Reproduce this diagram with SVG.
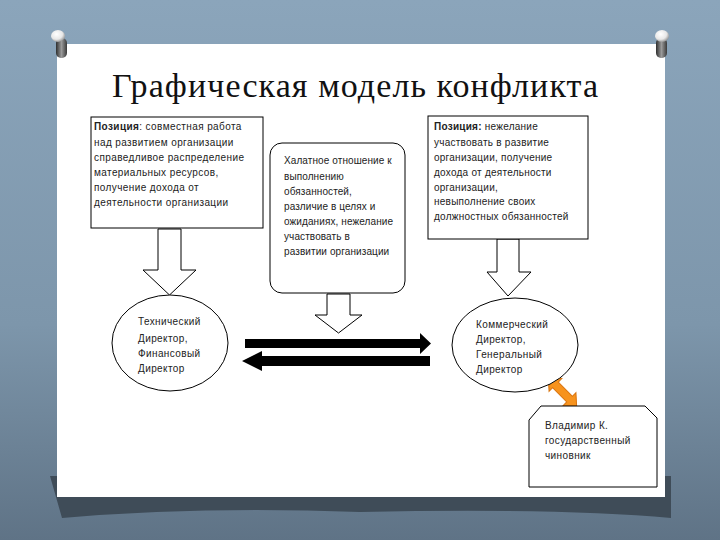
<svg xmlns="http://www.w3.org/2000/svg" width="720" height="540" viewBox="0 0 720 540">
<defs>
<linearGradient id="bg" x1="0" y1="0" x2="0" y2="1">
<stop offset="0" stop-color="#8ba5bb"/>
<stop offset="0.6" stop-color="#7d96ab"/>
<stop offset="1" stop-color="#5f7386"/>
</linearGradient>
<radialGradient id="cap" cx="0.4" cy="0.35" r="0.7">
<stop offset="0" stop-color="#ffffff"/>
<stop offset="0.6" stop-color="#e8e8e8"/>
<stop offset="1" stop-color="#8a8a8a"/>
</radialGradient>
<linearGradient id="body" x1="0" y1="0" x2="1" y2="0">
<stop offset="0" stop-color="#2e2e2e"/>
<stop offset="0.5" stop-color="#9a9a9a"/>
<stop offset="1" stop-color="#3a3a3a"/>
</linearGradient>
<style>
.t{font-family:"Liberation Sans","DejaVu Sans",sans-serif;font-size:10px;fill:#222;letter-spacing:0.4px}
.c{letter-spacing:0.1px}
.r{letter-spacing:0.25px}
.b{font-weight:bold}
.ln{fill:#fff;stroke:#000;stroke-width:1}
.blk{fill:#000}
</style>
</defs>
<rect x="0" y="0" width="720" height="540" fill="url(#bg)"/>
<path d="M50,476 L671,476 L671,518 Q560,508 360,512 Q200,506 62,518 Z" fill="#3f4c58"/>
<rect x="57" y="44" width="608" height="453" fill="#fff"/>
<g id="pins">
<rect x="56" y="38" width="11" height="20" rx="5" fill="url(#body)"/>
<ellipse cx="58" cy="36" rx="7" ry="6" fill="url(#cap)"/>
<rect x="656" y="38" width="11" height="20" rx="5" fill="url(#body)"/>
<ellipse cx="662" cy="36" rx="7" ry="6" fill="url(#cap)"/>
</g>
<text x="355" y="97" text-anchor="middle" font-family="Liberation Serif, serif" font-size="34" fill="#111" textLength="486">Графическая модель конфликта</text>
<g id="connectors">
<polygon class="ln" points="158,229 181,229 181,270 196,270 169.5,295 143,270 158,270"/>
<polygon class="ln" points="327,294 350,294 350,315 362,315 338.5,333 315,315 327,315"/>
<polygon class="ln" points="497,239 519,239 519,272 531,272 508,296 487,272 497,272"/>
<polygon class="blk" points="245,339 420,339 420,333 431,343.5 420,354 420,348 245,348"/>
<polygon class="blk" points="430,356 262,356 262,351 242,361 262,371 262,366 430,366"/>
<polygon points="-20,0 -10,-9 -10,-4 10,-4 10,-9 20,0 10,9 10,4 -10,4 -10,9" fill="#f7931e" stroke="#d9730d" stroke-width="1" transform="translate(562.5,392) rotate(45)"/>
</g>
<g id="box-left">
<rect class="ln" x="91" y="117" width="172" height="111"/>
<text class="t" x="94" y="130"><tspan class="b">Позиция</tspan>: совместная работа</text>
<text class="t" x="94" y="146">над развитием организации</text>
<text class="t" x="94" y="161">справедливое распределение</text>
<text class="t" x="94" y="176">материальных ресурсов,</text>
<text class="t" x="94" y="191">получение дохода от</text>
<text class="t" x="94" y="206">деятельности организации</text>
</g>
<g id="box-center">
<rect class="ln" x="270" y="143" width="135" height="150" rx="12"/>
<text class="t c" x="284" y="164">Халатное отношение к</text>
<text class="t c" x="284" y="180">выполнению</text>
<text class="t c" x="284" y="195">обязанностей,</text>
<text class="t c" x="284" y="210">различие в целях и</text>
<text class="t c" x="284" y="225">ожиданиях, нежелание</text>
<text class="t c" x="284" y="240">участвовать в</text>
<text class="t c" x="284" y="255">развитии организации</text>
</g>
<g id="box-right">
<rect class="ln" x="428" y="116" width="160" height="123"/>
<text class="t r" x="434" y="130"><tspan class="b">Позиция:</tspan> нежелание</text>
<text class="t r" x="434" y="146">участвовать в развитие</text>
<text class="t r" x="434" y="161">организации, получение</text>
<text class="t r" x="434" y="176">дохода от деятельности</text>
<text class="t r" x="434" y="191">организации,</text>
<text class="t r" x="434" y="205">невыполнение своих</text>
<text class="t r" x="434" y="220">должностных обязанностей</text>
</g>
<g id="ellipse-left">
<ellipse class="ln" cx="170" cy="343" rx="58" ry="48"/>
<text class="t" x="138" y="325">Технический</text>
<text class="t" x="138" y="342">Директор,</text>
<text class="t" x="138" y="357">Финансовый</text>
<text class="t" x="138" y="372">Директор</text>
</g>
<g id="ellipse-right">
<ellipse class="ln" cx="515" cy="345" rx="63" ry="47"/>
<text class="t" x="476" y="328">Коммерческий</text>
<text class="t" x="476" y="343">Директор,</text>
<text class="t" x="476" y="358">Генеральный</text>
<text class="t" x="476" y="373">Директор</text>
</g>
<g id="box-official">
<polygon class="ln" points="529,420 541,406 645,406 657,418 657,487 529,487"/>
<text class="t" x="545" y="429">Владимир К.</text>
<text class="t" x="545" y="444">государственный</text>
<text class="t" x="545" y="459">чиновник</text>
</g>
</svg>
